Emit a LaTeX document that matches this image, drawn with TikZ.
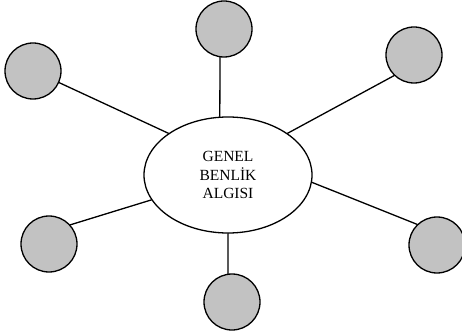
\documentclass[tikz,border=0pt]{standalone}
\usepackage{fontspec}
\setmainfont{Liberation Serif}
\usetikzlibrary{shapes.geometric}

\begin{document}
\begin{tikzpicture}[x=1pt, y=-1pt, line join=round, line cap=round]
\tikzset{
  part/.style={circle, draw, line width=1.3pt, fill=gray!48, minimum size=56pt, inner sep=0pt},
  link/.style={line width=1.3pt}
}
\useasboundingbox (0,0) rectangle (462,336);
% central ellipse
\node[ellipse, draw, line width=1.3pt, minimum width=168pt, minimum height=116pt,
      align=center, font=\fontsize{15.5}{18.5}\selectfont] (G) at (228,175) {GENEL\\BENLİK\\ALGISI};
% surrounding circles
\node[part] (T) at (224,29) {};
\node[part] (UL) at (33,71) {};
\node[part] (UR) at (414,55) {};
\node[part] (LL) at (49,244) {};
\node[part] (LR) at (437,245) {};
\node[part] (B) at (232,302) {};
% spokes
\draw[link] (T.-98) -- (G.98);
\draw[link] (UL.-24) -- (G.145);
\draw[link] (UR.226) -- (G.35);
\draw[link] (LL.42) -- (G.198);
\draw[link] (LR.134) -- (G.-5);
\draw[link] (B.98) -- (G.south);
\end{tikzpicture}
\end{document}
